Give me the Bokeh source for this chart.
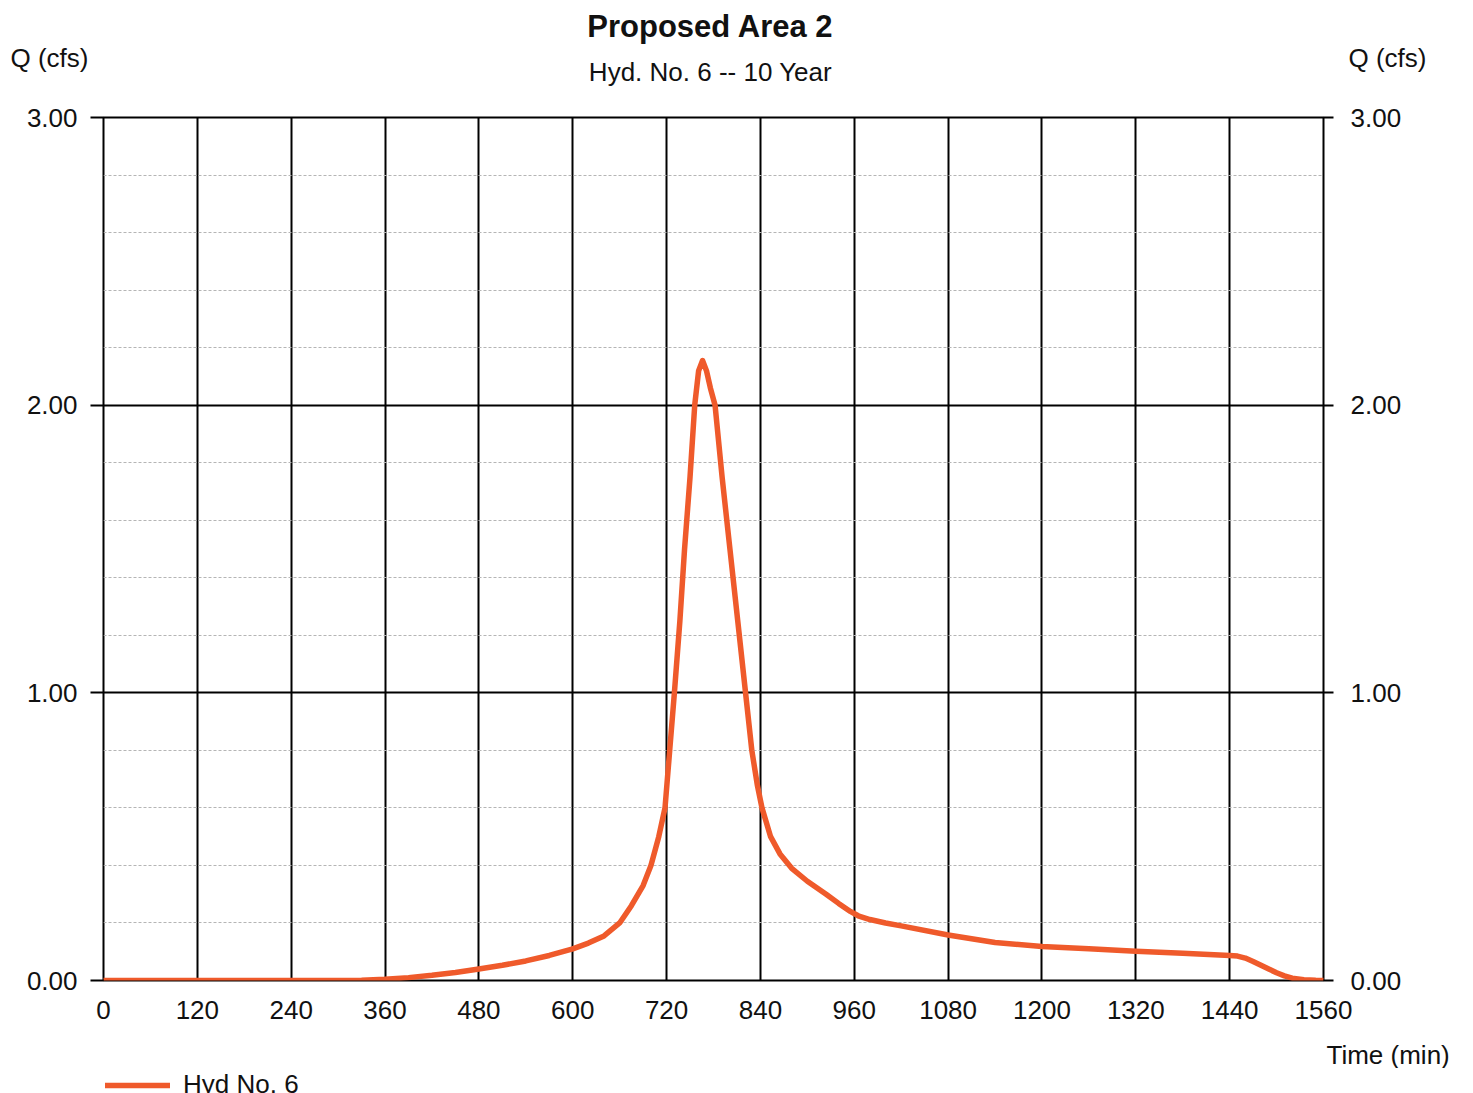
from bokeh.plotting import figure
from bokeh.layouts import column
from bokeh.models import (FixedTicker, NumeralTickFormatter, LinearAxis, Range1d,
                          Label, Legend, LegendItem, ColumnDataSource)
from bokeh.embed import file_html
from bokeh.resources import INLINE

# ---- data ----
time_min = [0, 60, 120, 180, 240, 300, 330, 360, 390, 420, 450, 480, 510, 540,
            570, 600, 620, 640, 660, 675, 690, 700, 710, 718, 724, 730, 737,
            743, 750, 756, 761, 766, 771, 776, 782, 791, 801, 811, 821, 829,
            836, 842, 853, 865, 880, 900, 924, 940, 955, 965, 980, 1000, 1020,
            1080, 1140, 1200, 1260, 1320, 1380, 1440, 1450, 1460, 1470, 1480,
            1490, 1500, 1510, 1520, 1535, 1550, 1560]
flow_cfs = [0.0, 0.0, 0.0, 0.0, 0.0, 0.0, 0.001, 0.004, 0.01, 0.018, 0.028,
            0.04, 0.053, 0.068, 0.087, 0.11, 0.13, 0.155, 0.2, 0.26, 0.33,
            0.4, 0.5, 0.6, 0.8, 1.0, 1.25, 1.5, 1.75, 2.0, 2.12, 2.155, 2.12,
            2.06, 2.0, 1.75, 1.5, 1.25, 1.0, 0.8, 0.68, 0.6, 0.5, 0.44, 0.39,
            0.345, 0.3, 0.268, 0.24, 0.225, 0.212, 0.2, 0.19, 0.158, 0.132,
            0.118, 0.11, 0.102, 0.095, 0.087, 0.085, 0.078, 0.066, 0.053, 0.04,
            0.027, 0.016, 0.008, 0.003, 0.0005, 0.0]
x_ticks = [0, 120, 240, 360, 480, 600, 720, 840, 960, 1080, 1200, 1320, 1440, 1560]
y_ticks = [0.0, 1.0, 2.0, 3.0]
y_minor = [0.2, 0.4, 0.6, 0.8, 1.2, 1.4, 1.6, 1.8, 2.2, 2.4, 2.6, 2.8]

title_text = "Proposed Area 2"
subtitle_text = "Hyd. No. 6 -- 10 Year"
y_label = "Q (cfs)"
x_label = "Time (min)"
series_name = "Hyd No. 6"

FONT = "Liberation Sans"
TXT = "#111111"
LINE_COLOR = "#EF5A2B"
LINE_W = 5.5
TOTAL_W = 1463

p = figure(frame_width=1220, frame_height=863,
           min_border_left=103, min_border_right=140,
           min_border_top=117, min_border_bottom=88,
           x_range=Range1d(0, 1560), y_range=Range1d(0, 3),
           output_backend="svg", toolbar_location=None)
p.background_fill_color = "white"
p.border_fill_color = "white"
p.outline_line_color = "black"
p.outline_line_width = 2

# x axis (no ticks, labels only)
xa = p.xaxis[0]
xa.ticker = FixedTicker(ticks=x_ticks)
xa.axis_line_color = None
xa.major_tick_out = 0
xa.major_tick_in = 0
xa.minor_tick_line_color = None
xa.major_label_standoff = 20
xa.major_label_text_font = FONT
xa.major_label_text_font_size = "26px"
xa.major_label_text_color = TXT

# y axes, left and right
yt = FixedTicker(ticks=y_ticks, minor_ticks=y_minor)

def style_y(ax, tick_out, standoff):
    ax.ticker = yt
    ax.formatter = NumeralTickFormatter(format="0.00")
    ax.axis_line_color = None
    ax.major_tick_out = tick_out
    ax.major_tick_in = 0
    ax.major_tick_line_width = 2
    ax.minor_tick_line_color = None
    ax.major_label_standoff = standoff
    ax.major_label_text_font = FONT
    ax.major_label_text_font_size = "26px"
    ax.major_label_text_color = TXT

style_y(p.yaxis[0], 13, 13)
yr = LinearAxis()
style_y(yr, 10, 17)
p.add_layout(yr, "right")

# grids
p.xgrid.ticker = FixedTicker(ticks=x_ticks)
p.xgrid.grid_line_color = "black"
p.xgrid.grid_line_width = 2
p.ygrid.ticker = yt
p.ygrid.grid_line_color = "black"
p.ygrid.grid_line_width = 2
p.ygrid.minor_grid_line_color = "#b5b5b5"
p.ygrid.minor_grid_line_width = 1
p.ygrid.minor_grid_line_dash = "3 2"

src = ColumnDataSource(dict(t=time_min, q=flow_cfs))
p.line("t", "q", source=src, line_color=LINE_COLOR, line_width=LINE_W,
       line_join="round", line_cap="round")

# ---- texts placed in the side panels (panel-relative screen px) ----
def side_label(fig, text, x, y, size, align="left", bold=False, place="above"):
    fig.add_layout(Label(text=text, x=x, y=y, x_units="screen", y_units="screen",
                         text_font=FONT, text_font_size=size, text_align=align,
                         text_baseline="middle", text_color=TXT,
                         text_font_style="bold" if bold else "normal"), place)

# above: subtitle, left Q label, title (inner to outer)
side_label(p, subtitle_text, 607, 46, "26px", align="center")
side_label(p, y_label, -93, 29.6, "26px")
side_label(p, title_text, 607, 31.2, "31px", align="center", bold=True)
# right: Q label
side_label(p, y_label, -56, 923, "26px", place="right")
# below (after the x axis): x label
side_label(p, x_label, 1223, -3, "26px", place="below")

# ---- footer strip with the legend (series drawn out of view, key only) ----
p2 = figure(width=TOTAL_W, height=25, min_border=0,
            x_range=Range1d(0, 1560), y_range=Range1d(-20, -10),
            x_axis_location=None, y_axis_location=None,
            output_backend="svg", toolbar_location=None)
p2.outline_line_color = None
p2.grid.visible = False
p2.background_fill_color = "white"
p2.border_fill_color = "white"
key = p2.line("t", "q", source=src, line_color=LINE_COLOR, line_width=LINE_W,
              line_cap="round")
legend = Legend(items=[LegendItem(label=series_name, renderers=[key])],
                location=(2, -7), glyph_width=65, glyph_height=30,
                label_height=30, label_standoff=13, padding=0, margin=0,
                border_line_color=None, background_fill_alpha=0,
                label_text_font=FONT, label_text_font_size="26px",
                label_text_color=TXT)
p2.add_layout(legend, "center")

open("out.html", "w").write(file_html(column(p, p2, spacing=0), INLINE))
